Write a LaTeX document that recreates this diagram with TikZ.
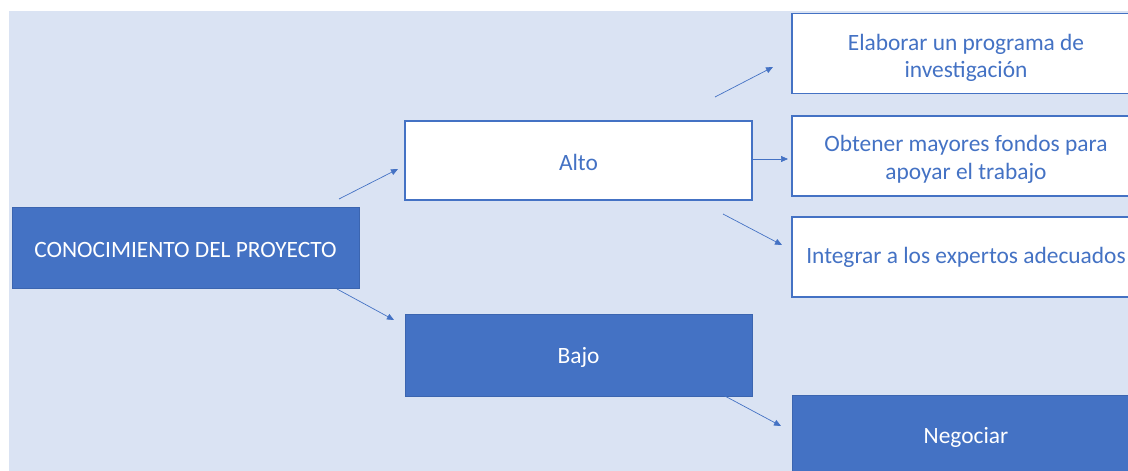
\documentclass[tikz,border=0pt]{standalone}
\usepackage{fontspec}
\setmainfont{Carlito}
\usetikzlibrary{arrows.meta}
\definecolor{accent}{HTML}{4472C4}
\definecolor{accentdark}{HTML}{3B65B0}
\definecolor{canvas}{HTML}{DAE3F3}
% centred lines of box text, lowered by the optional amount inside the box
\newcommand{\boxlines}[2][3pt]{\raisebox{0pt}[\dimexpr\height+#1*2\relax][\depth]{\begin{tabular}{@{}c@{}}#2\end{tabular}}}
\tikzset{
  box/.style={rectangle, minimum width=347pt, minimum height=80pt, inner sep=0pt,
    font=\fontsize{23.4}{27.5}\selectfont},
  lightbox/.style={box, fill=white, draw=accent, line width=1.2pt, text=accent},
  darkbox/.style={box, fill=accent, draw=accentdark, line width=0.8pt, text=white},
  link/.style={draw=accent, line width=0.7pt, -{Triangle[length=7pt,width=6pt]}},
}
\begin{document}
\begin{tikzpicture}[x=1pt,y=-1pt]
  \useasboundingbox (0,0) rectangle (1128,471);
  \clip (0,0) rectangle (1128,471);
  \fill[canvas] (9,11) rectangle (1140,480);

  % main topic and its two levels
  \node[darkbox, minimum height=81pt] (con) at (185.5,247.5) {\boxlines[4pt]{CONOCIMIENTO DEL PROYECTO}};
  \node[lightbox, minimum height=79pt] (alto) at (578.5,160.5) {\boxlines[4pt]{Alto}};
  \node[darkbox, minimum height=82pt] (bajo) at (578.5,355) {\boxlines{Bajo}};

  % actions
  \node[lightbox, minimum width=348pt] (elab) at (966,53.5) {\boxlines[5pt]{Elaborar un programa de\\investigación}};
  \node[lightbox, minimum width=348pt] (obt) at (966,156) {\boxlines[4pt]{Obtener mayores fondos para\\apoyar el trabajo}};
  \node[lightbox, minimum width=348pt] (integ) at (966,257) {\boxlines[1pt]{Integrar a los expertos adecuados}};
  \node[darkbox, minimum width=348pt] (neg) at (966,435) {\boxlines[2.5pt]{Negociar}};

  % connector end points
  \coordinate (c1s) at (339,199);  \coordinate (c1e) at (398,169);
  \coordinate (c2s) at (337,289);  \coordinate (c2e) at (394,320);
  \coordinate (a1s) at (715,97);   \coordinate (a1e) at (773,67);
  \coordinate (a2s) at (752,159);  \coordinate (a2e) at (788,159);
  \coordinate (a3s) at (723,214);  \coordinate (a3e) at (782,245);
  \coordinate (b1s) at (723,395);  \coordinate (b1e) at (781,426);

  \draw[link] (c1s) -- (c1e);
  \draw[link] (c2s) -- (c2e);
  \draw[link] (a1s) -- (a1e);
  \draw[link] (a2s) -- (a2e);
  \draw[link] (a3s) -- (a3e);
  \draw[link] (b1s) -- (b1e);
\end{tikzpicture}
\end{document}
